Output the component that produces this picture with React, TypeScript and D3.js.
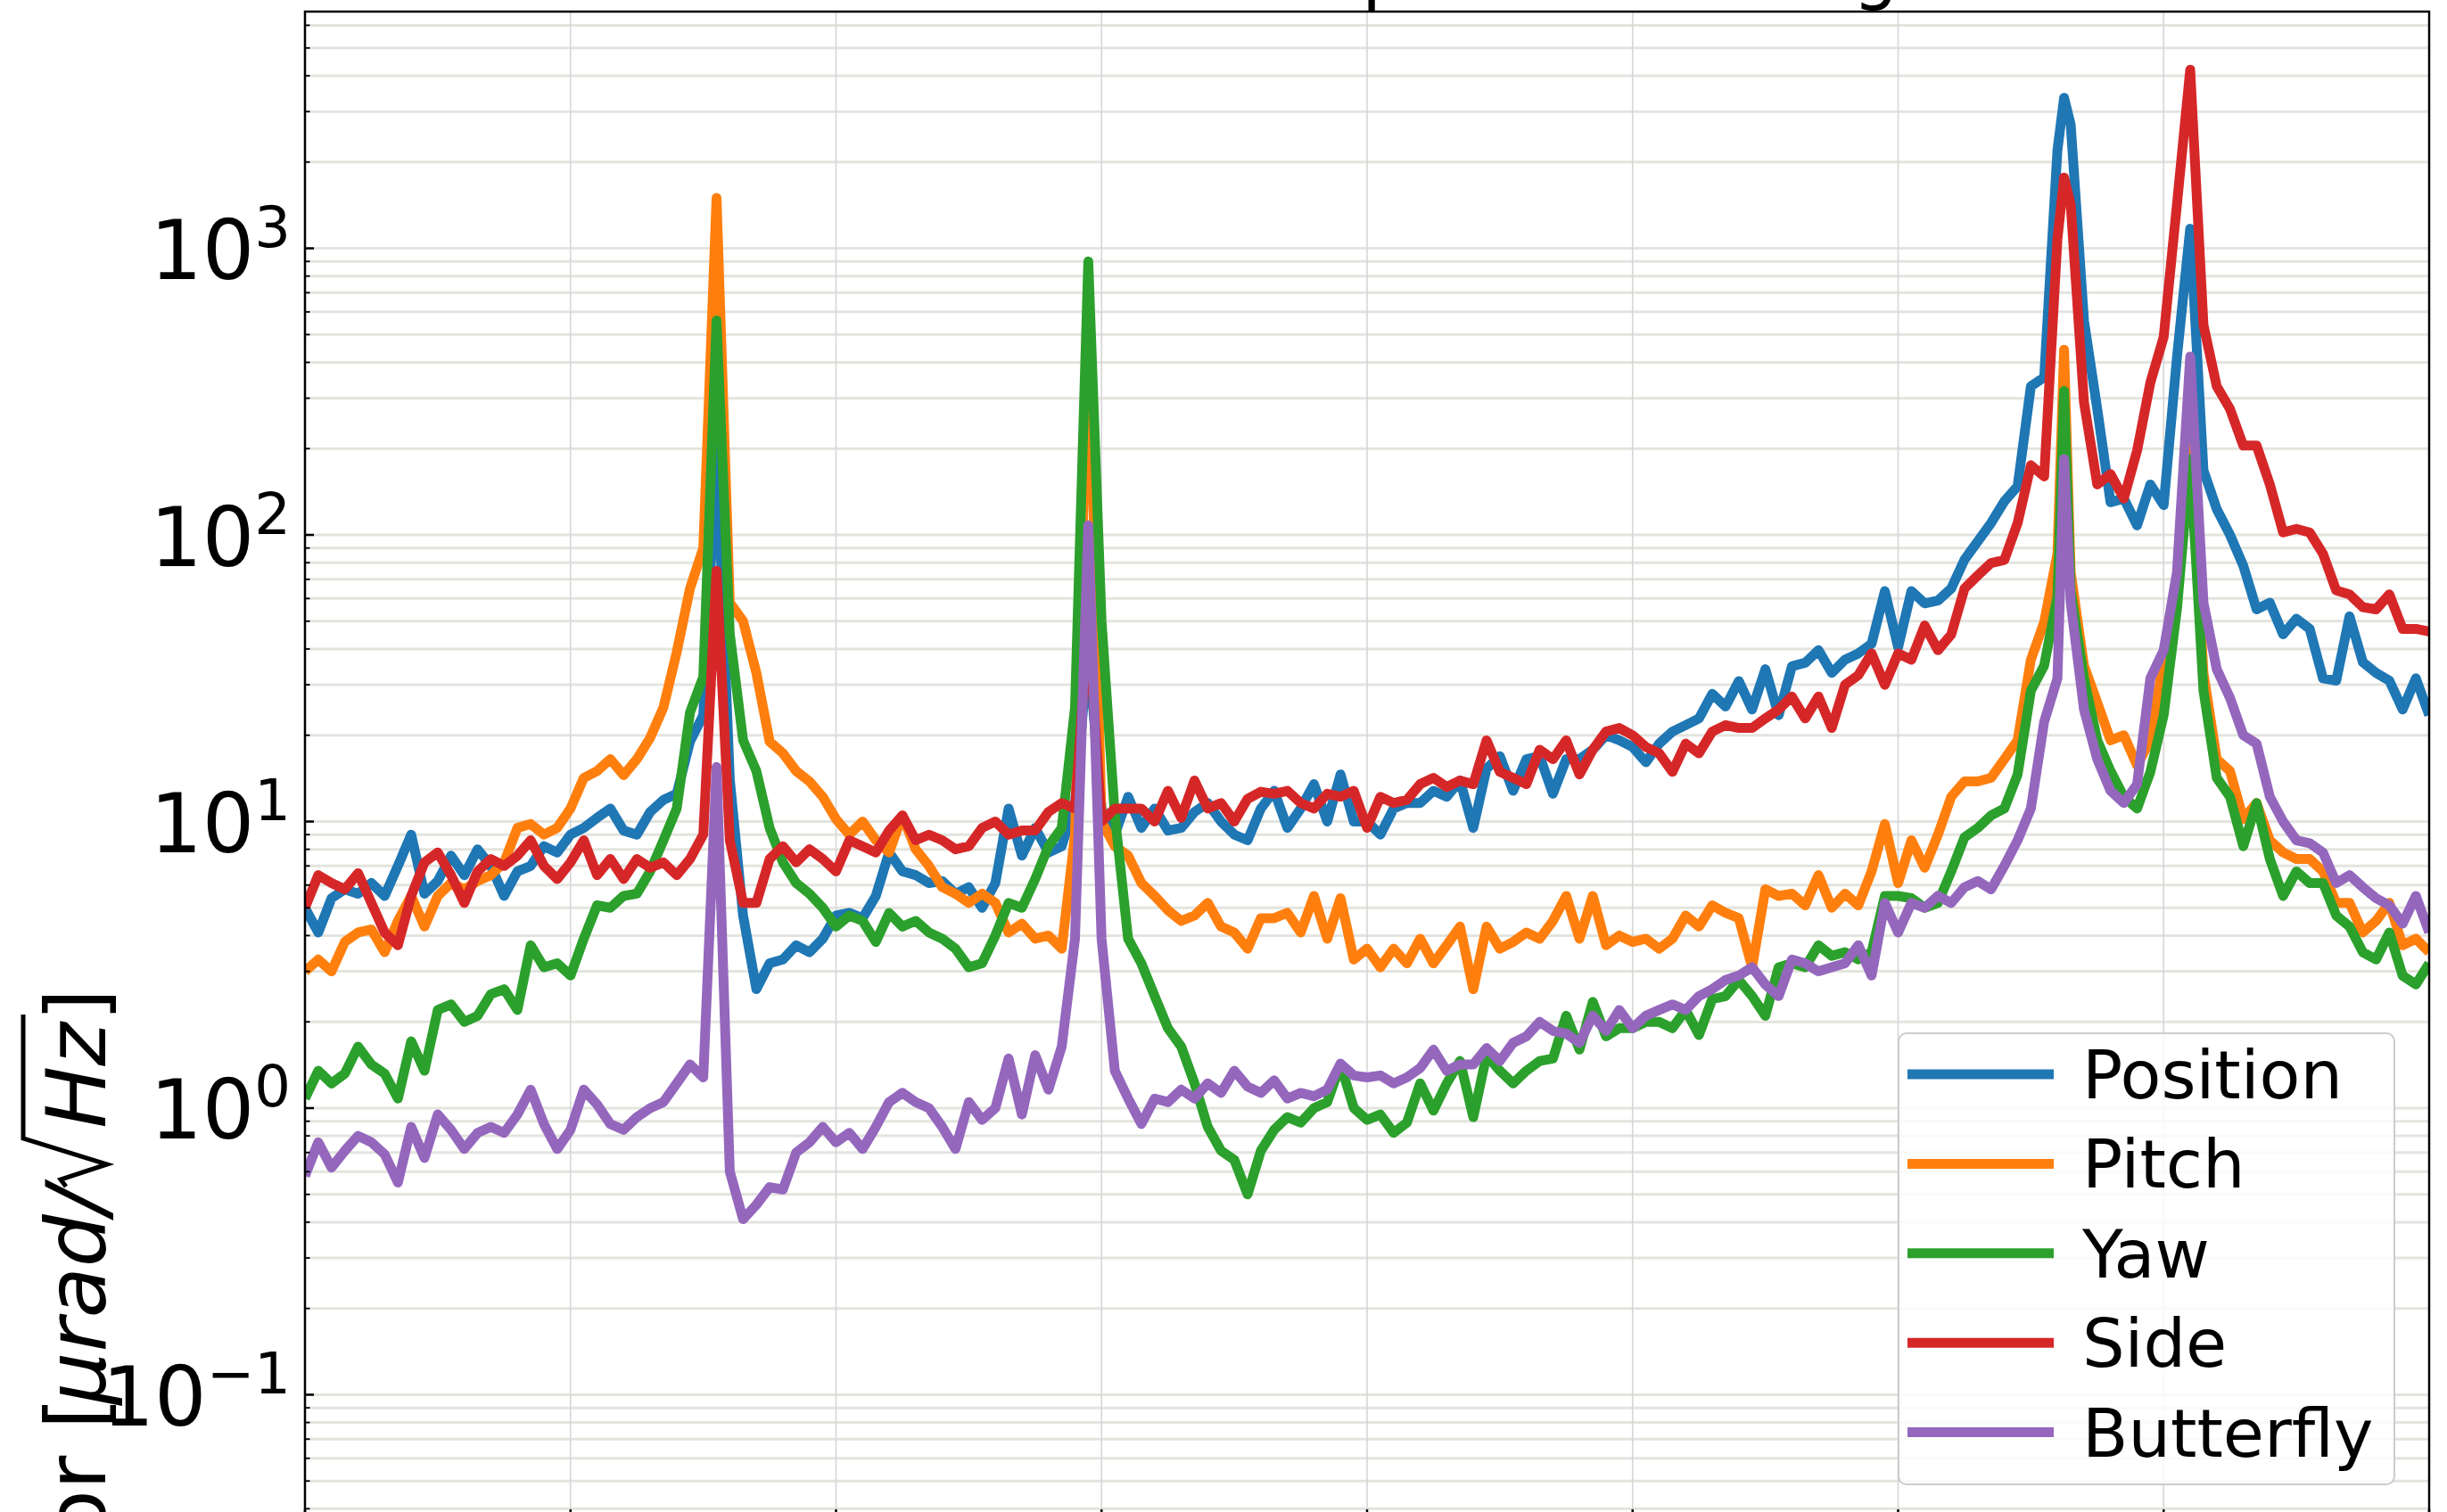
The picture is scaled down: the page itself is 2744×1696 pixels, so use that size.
import * as d3 from "d3";

// FFT bin frequencies (Hz), with one extra bin at the third resonance
const FREQ_HZ = [
  ...d3.range(0, 133).map((i) => i * 0.25),
  33.125,
  ...d3.range(133, 161).map((i) => i * 0.25),
];

const POSITION = [
  5.0, 4.1, 5.4, 5.8, 5.6, 6.1, 5.5, 7.0, 9.0, 5.6,
  6.2, 7.6, 6.5, 8.0, 7.0, 5.5, 6.7, 7.0, 8.2, 7.8,
  9.0, 9.5, 10.3, 11.1, 9.3, 9.0, 10.8, 11.9, 12.5, 19,
  23.5, 200, 14, 4.7, 2.6, 3.2, 3.3, 3.7, 3.5, 3.9,
  4.7, 4.8, 4.6, 5.5, 7.8, 6.7, 6.5, 6.1, 6.2, 5.6,
  5.9, 5.0, 6.1, 11.1, 7.6, 9.5, 7.8, 8.2, 11.6, 40,
  11.1, 9.0, 12.2, 9.5, 11.1, 9.3, 9.5, 10.8, 11.6, 10,
  9.0, 8.6, 11.1, 12.8, 9.5, 11.1, 13.5, 10, 14.6, 10,
  10, 9.0, 11.1, 11.6, 11.6, 12.8, 12.2, 13.9, 9.5, 15.3,
  16.9, 12.8, 16.5, 16.9, 12.5, 16.5, 16.5, 17.8, 20, 19.2,
  18.2, 16.1, 18.7, 20.6, 21.7, 22.9, 27.9, 25.2, 30.9, 24.6,
  34, 23.5, 34.8, 35.8, 39.6, 33, 36.7, 38.6, 41.7, 63.7,
  40.6, 63.7, 57.7, 59, 65, 82, 95, 110, 131, 148,
  330, 355, 2200,
  3350,
  2700, 560, 275, 130, 134, 108, 150,
  127, 415, 1170, 168, 123, 100, 78, 55, 58, 45,
  51, 47, 31.6, 31, 52, 36, 33, 31, 24.6, 31.6, 23.5,
];

const PITCH = [
  3.0, 3.3, 3.0, 3.8, 4.1, 4.2, 3.5, 4.5, 5.5, 4.3,
  5.5, 6.1, 5.8, 6.2, 6.5, 7.2, 9.5, 9.8, 9.0, 9.5,
  11.1, 14.2, 15, 16.5, 14.5, 16.5, 19.6, 25, 39, 65,
  90, 1500, 58, 50, 33, 19, 17.3, 15, 13.8, 12.2,
  10.2, 9.0, 10, 8.6, 7.8, 10.5, 8.0, 7.0, 5.9, 5.6,
  5.2, 5.6, 5.2, 4.1, 4.4, 3.9, 4.0, 3.6, 9, 600,
  10, 8.2, 7.6, 6.1, 5.5, 4.9, 4.5, 4.7, 5.2, 4.3,
  4.1, 3.6, 4.6, 4.6, 4.8, 4.1, 5.5, 3.9, 5.4, 3.3,
  3.6, 3.1, 3.6, 3.2, 3.9, 3.2, 3.7, 4.3, 2.6, 4.3,
  3.6, 3.8, 4.1, 3.9, 4.5, 5.5, 3.9, 5.5, 3.7, 4.0,
  3.8, 3.9, 3.6, 3.9, 4.7, 4.3, 5.1, 4.8, 4.6, 3.1,
  5.8, 5.5, 5.6, 5.1, 6.5, 5.0, 5.6, 5.1, 6.7, 9.8,
  6.1, 8.6, 6.9, 9.0, 12.2, 13.8, 13.8, 14.2, 16.5, 19.2,
  36.7, 49.6, 86,
  443,
  74, 35, 26, 19.2, 20, 15.7, 19.2,
  36.7, 67, 214, 33, 16.5, 15, 10.2, 11.6, 8.6, 7.8,
  7.4, 7.4, 6.7, 5.2, 5.2, 4.1, 4.5, 5.2, 3.7, 3.9, 3.5,
];

const YAW = [
  1.08, 1.35, 1.22, 1.32, 1.64, 1.42, 1.32, 1.08, 1.71, 1.35,
  2.2, 2.3, 2.0, 2.1, 2.5, 2.6, 2.2, 3.7, 3.1, 3.2,
  2.9, 3.9, 5.1, 5.0, 5.5, 5.6, 6.7, 8.6, 11.1, 24,
  32, 560, 45, 19.2, 15, 9.5, 7.2, 6.1, 5.6, 5.0,
  4.3, 4.7, 4.5, 3.8, 4.8, 4.3, 4.5, 4.1, 3.9, 3.6,
  3.1, 3.2, 4.0, 5.2, 5.0, 6.3, 8.2, 9.5, 25, 900,
  50, 10.5, 3.9, 3.2, 2.46, 1.9, 1.64, 1.22, 0.86, 0.71,
  0.66, 0.5, 0.71, 0.84, 0.93, 0.89, 1.0, 1.05, 1.42, 1.0,
  0.91, 0.95, 0.82, 0.89, 1.22, 0.98, 1.22, 1.46, 0.93, 1.53,
  1.35, 1.22, 1.35, 1.46, 1.49, 2.1, 1.6, 2.35, 1.78, 1.9,
  1.9, 2.0, 2.0, 1.9, 2.2, 1.8, 2.4, 2.46, 2.8, 2.46,
  2.1, 3.1, 3.2, 3.1, 3.7, 3.4, 3.5, 3.3, 3.5, 5.5,
  5.5, 5.4, 5.0, 5.2, 6.7, 8.8, 9.5, 10.5, 11.1, 14.6,
  28.6, 35, 61,
  318,
  64, 31.6, 19.2, 15, 12.2, 11.1, 14.9,
  23.5, 55, 184, 28.6, 14.2, 12.2, 8.2, 11.6, 7.4, 5.5,
  6.7, 6.1, 6.1, 4.7, 4.3, 3.5, 3.3, 4.1, 2.9, 2.7, 3.2,
];

const SIDE = [
  5.0, 6.5, 6.1, 5.8, 6.6, 5.2, 4.1, 3.7, 5.5, 7.2,
  7.8, 6.5, 5.2, 6.7, 7.4, 7.0, 7.6, 8.6, 7.0, 6.3,
  7.2, 8.6, 6.5, 7.4, 6.3, 7.4, 6.9, 7.2, 6.5, 7.4,
  9.0, 75, 8.6, 5.2, 5.2, 7.4, 8.2, 7.2, 8.0, 7.4,
  6.7, 8.6, 8.2, 7.8, 9.3, 10.5, 8.6, 9.0, 8.6, 8.0,
  8.2, 9.5, 10, 9.0, 9.3, 9.3, 10.8, 11.6, 11.1, 50,
  10, 11.1, 11.1, 11.1, 10, 12.8, 10.3, 13.9, 11.1, 11.6,
  10, 12, 12.7, 12.5, 12.8, 11.6, 11.1, 12.5, 12.2, 12.8,
  9.5, 12.2, 11.6, 11.9, 13.5, 14.2, 13.2, 13.9, 13.5, 19.2,
  14.9, 14.2, 13.5, 17.8, 16.5, 19.2, 14.6, 17.8, 20.6, 21.2,
  20, 18.2, 17.3, 14.9, 18.7, 17.3, 20.6, 21.7, 21.2, 21.2,
  22.9, 24.6, 27.3, 22.9, 27.3, 21.2, 30, 32.4, 38.6, 30,
  38.6, 36.7, 48.3, 39.6, 44.9, 65, 72.2, 79.8, 81.8, 110,
  175, 160, 1077,
  1766,
  1420, 290, 150, 163, 134, 197, 340,
  490, 1420, 4200, 540, 330, 275, 205, 205, 150, 102,
  105, 102, 86, 64, 62, 56, 55, 62, 47, 47, 46,
];

const BUTTERFLY = [
  0.58, 0.76, 0.62, 0.71, 0.8, 0.76, 0.69, 0.55, 0.86, 0.67,
  0.95, 0.84, 0.72, 0.82, 0.86, 0.82, 0.95, 1.16, 0.88, 0.72,
  0.84, 1.16, 1.03, 0.88, 0.84, 0.93, 1.0, 1.05, 1.22, 1.42,
  1.28, 15.5, 0.6, 0.41, 0.46, 0.53, 0.52, 0.70, 0.76, 0.86,
  0.76, 0.82, 0.72, 0.86, 1.05, 1.13, 1.05, 1.0, 0.86, 0.72,
  1.05, 0.91, 1.0, 1.49, 0.95, 1.53, 1.16, 1.64, 3.9, 108,
  3.9, 1.35, 1.08, 0.88, 1.08, 1.05, 1.16, 1.08, 1.22, 1.13,
  1.35, 1.19, 1.13, 1.25, 1.08, 1.13, 1.1, 1.16, 1.43, 1.3,
  1.28, 1.3, 1.22, 1.28, 1.38, 1.6, 1.35, 1.42, 1.42, 1.62,
  1.46, 1.69, 1.78, 2.0, 1.86, 1.82, 1.69, 2.1, 1.86, 2.2,
  1.9, 2.1, 2.2, 2.3, 2.2, 2.46, 2.6, 2.8, 2.9, 3.1,
  2.7, 2.46, 3.3, 3.2, 3.0, 3.1, 3.2, 3.7, 2.9, 5.2,
  4.1, 5.2, 5.0, 5.5, 5.2, 5.9, 6.2, 5.8, 7.0, 8.6,
  11.1, 22.3, 31.6,
  184,
  58, 24.6, 16.5, 12.8, 11.6, 13.5, 31.6,
  39.6, 74, 419, 58, 34, 27, 20, 18.7, 12.2, 10,
  8.6, 8.4, 7.8, 6.1, 6.5, 5.9, 5.4, 5.1, 4.4, 5.5, 4.1,
];

const SERIES = [
  { name: "Position", color: "#1f77b4", values: POSITION },
  { name: "Pitch", color: "#ff7f0e", values: PITCH },
  { name: "Yaw", color: "#2ca02c", values: YAW },
  { name: "Side", color: "#d62728", values: SIDE },
  { name: "Butterfly", color: "#9467bd", values: BUTTERFLY },
];

const X_TICKS = d3.range(0, 41, 5);
const Y_DECADES = [-1, 0, 1, 2, 3];
const X_LIMITS: [number, number] = [0, 40];
const Y_LIMITS: [number, number] = [10 ** -1.431, 10 ** 3.826];

const TITLE = "Full Measured Error Spectrum at High Gain";
const FONT = "DejaVu Sans";

const App = () => {
  const width = 2744;
  const height = 1696;
  // axes box in page pixels (bottom edge sits just below the page)
  const box = { left: 342, right: 2724, top: 13, bottom: 1703 };

  const x = d3.scaleLinear().domain(X_LIMITS).range([box.left, box.right]);
  const y = d3.scaleLog().domain(Y_LIMITS).range([box.bottom, box.top]);

  const line = d3
    .line<number>()
    .x((_, i) => x(FREQ_HZ[i]))
    .y((d) => y(d));

  // minor log ticks 2..9 per decade inside the limits
  const minorTicks: number[] = [];
  for (let dec = -2; dec <= 3; dec++) {
    for (let k = 2; k <= 9; k++) {
      const v = k * 10 ** dec;
      if (v > Y_LIMITS[0] && v < Y_LIMITS[1]) minorTicks.push(v);
    }
  }
  const majorTicks = Y_DECADES.map((d) => 10 ** d);

  const legendX = 2129;
  const legendY = 1159;
  const rowH = 100.4;

  return (
    <svg
      width={width}
      height={height}
      viewBox={`0 0 ${width} ${height}`}
      style={{ position: "absolute", left: 0, top: 0, background: "#fff" }}
      fontFamily={FONT}
    >
      <defs>
        <clipPath id="plot-area">
          <rect x={box.left} y={box.top} width={box.right - box.left} height={box.bottom - box.top} />
        </clipPath>
      </defs>

      {/* grid */}
      {[...minorTicks, ...majorTicks].map((v) => (
        <line key={`hg${v}`} x1={box.left} x2={box.right} y1={y(v)} y2={y(v)} stroke="#e4e4df" strokeWidth={3} />
      ))}
      {X_TICKS.map((t) => (
        <line key={`vg${t}`} x1={x(t)} x2={x(t)} y1={box.top} y2={box.bottom} stroke="#d6d6d6" strokeWidth={1.6} />
      ))}

      {/* series */}
      <g clipPath="url(#plot-area)" fill="none" strokeWidth={11} strokeLinejoin="round">
        {SERIES.map((s) => (
          <path key={s.name} d={line(s.values) ?? ""} stroke={s.color} />
        ))}
      </g>

      {/* spines */}
      <rect
        x={box.left}
        y={box.top}
        width={box.right - box.left}
        height={box.bottom - box.top}
        fill="none"
        stroke="#000"
        strokeWidth={2.5}
      />

      {/* y ticks, pointing inward */}
      {majorTicks.map((v) => (
        <line key={`ym${v}`} x1={box.left} x2={box.left + 10} y1={y(v)} y2={y(v)} stroke="#000" strokeWidth={2.5} />
      ))}
      {minorTicks.map((v) => (
        <line key={`yn${v}`} x1={box.left} x2={box.left + 5.5} y1={y(v)} y2={y(v)} stroke="#000" strokeWidth={1.8} />
      ))}
      {Y_DECADES.map((d) => (
        <text key={`yl${d}`} x={326} y={y(10 ** d) + 34.5} textAnchor="end" fontSize={92}>
          10
          <tspan dy={-36} fontSize={64}>
            {d < 0 ? `\u2212${-d}` : d}
          </tspan>
        </text>
      ))}

      {/* x ticks, pointing inward (their labels sit below the visible page) */}
      {X_TICKS.map((t) => (
        <line key={`xt${t}`} x1={x(t)} x2={x(t)} y1={box.bottom} y2={box.bottom - 10} stroke="#000" strokeWidth={2.5} />
      ))}

      {/* title (only its descenders reach into the page) */}
      <text x={(box.left + box.right) / 2} y={-5} textAnchor="middle" fontSize={80}>
        {TITLE}
      </text>

      {/* y label: Error [µrad/√Hz] */}
      <g transform="translate(118, 1109) rotate(-90)" fontSize={93}>
        <text x={-458} y={0} textAnchor="end">
          Error [
        </text>
        <text x={-222} y={0} textAnchor="end" fontStyle="italic">
          μrad/
        </text>
        <path
          d="M -222,-44 L -214,-50 L -197,2 L -168,-92 L -29,-92"
          fill="none"
          stroke="#000"
          strokeWidth={5}
        />
        <text x={-38} y={0} textAnchor="end" fontStyle="italic">
          Hz
        </text>
        <text x={0} y={0} textAnchor="end">
          ]
        </text>
      </g>

      {/* legend */}
      <g>
        <rect
          x={legendX}
          y={legendY}
          width={556}
          height={506}
          rx={9}
          fill="#fff"
          fillOpacity={0.8}
          stroke="#cccccc"
          strokeWidth={2}
        />
        {SERIES.map((s, i) => {
          const cy = 1205 + i * rowH;
          return (
            <g key={`lg${s.name}`}>
              <line x1={2139} x2={2303} y1={cy} y2={cy} stroke={s.color} strokeWidth={11} />
              <text x={2335} y={cy + 27} fontSize={75}>
                {s.name}
              </text>
            </g>
          );
        })}
      </g>
    </svg>
  );
};

export default App;
